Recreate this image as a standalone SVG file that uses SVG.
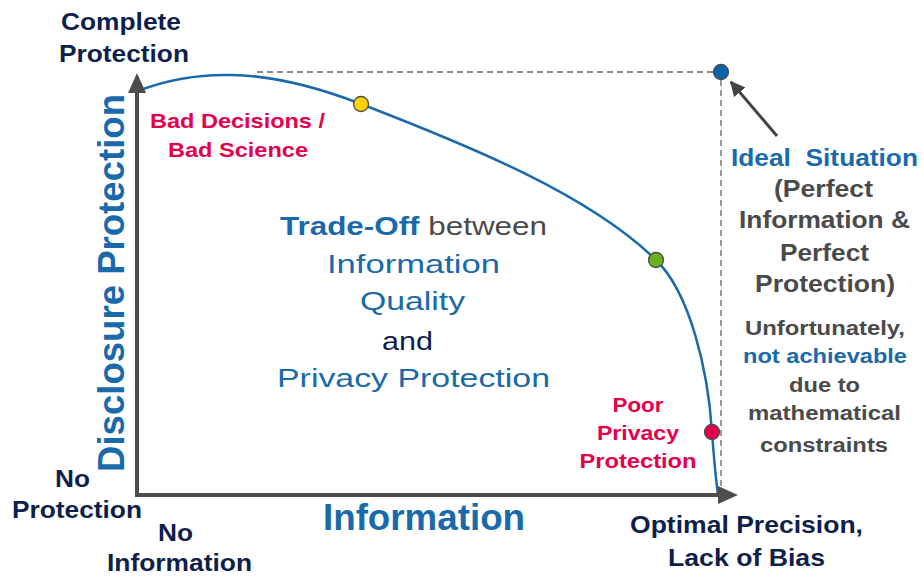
<svg xmlns="http://www.w3.org/2000/svg" width="924" height="576" viewBox="0 0 924 576">
<style>
text{font-family:"Liberation Sans",Arial,sans-serif;text-anchor:middle}
.b{font-weight:bold}
.navy{fill:#0f1f4b}
.blue{fill:#1a6aab}
.red{fill:#e6004c}
.gray{fill:#4a4a4a}
.axis{stroke:#4d4d4d;stroke-width:4;fill:none}
.dash{stroke:#666;stroke-width:1.3;stroke-dasharray:6 4;fill:none}
.dot{stroke:#4d4d4d;stroke-width:1.3}
</style>
<defs>
<marker id="ah" viewBox="0 0 10 10" refX="9" refY="5" markerWidth="5" markerHeight="5" orient="auto" markerUnits="strokeWidth">
<path d="M0,0 L10,5 L0,10 z" fill="#444"/>
</marker>
</defs>
<rect width="924" height="576" fill="#fff"/>
<g id="connectors">
<line class="dash" x1="257" y1="72" x2="714" y2="72"/>
<line class="dash" x1="721" y1="80" x2="721" y2="495" stroke="#8a8a8a"/>
<path d="M140,90 C170,79 200,74 232,75 C280,76 325,90 361,104 C470,146 590,195 656,260 C690,293 708,370 712,432 C714,460 716,480 718,495" fill="none" stroke="#1a6aab" stroke-width="2.5"/>
<line x1="777" y1="136" x2="731" y2="82" stroke="#444" stroke-width="3" marker-end="url(#ah)"/>
</g>
<g id="axes">
<line class="axis" x1="137" y1="497" x2="137" y2="90"/>
<path d="M137,73 L146,93 L128,93 z" fill="#4d4d4d"/>
<line class="axis" x1="135" y1="495" x2="720" y2="495"/>
<path d="M738,495 L718,486 L718,504 z" fill="#4d4d4d"/>
</g>
<g id="dot-ideal"><circle class="dot" cx="721" cy="72" r="7.5" fill="#0b63ab"/></g>
<g id="dot-bad"><circle class="dot" cx="361" cy="104" r="7.5" fill="#ffd100"/></g>
<g id="dot-mid"><circle class="dot" cx="656" cy="260" r="7.5" fill="#6cb023"/></g>
<g id="dot-poor"><circle class="dot" cx="712" cy="432" r="7.5" fill="#e6004c"/></g>
<g id="label-top">
<text class="b navy" x="121" y="30" font-size="24" textLength="120" lengthAdjust="spacingAndGlyphs">Complete</text>
<text class="b navy" x="124" y="62" font-size="24" textLength="130" lengthAdjust="spacingAndGlyphs">Protection</text>
</g>
<g id="label-y">
<text class="b blue" transform="translate(124,283) rotate(-90)" x="0" y="0" font-size="36" textLength="378" lengthAdjust="spacingAndGlyphs">Disclosure Protection</text>
</g>
<g id="label-noprot">
<text class="b navy" x="72.5" y="487" font-size="24" textLength="35" lengthAdjust="spacingAndGlyphs">No</text>
<text class="b navy" x="77" y="518" font-size="24" textLength="130" lengthAdjust="spacingAndGlyphs">Protection</text>
</g>
<g id="label-noinfo">
<text class="b navy" x="175.5" y="541" font-size="24" textLength="35" lengthAdjust="spacingAndGlyphs">No</text>
<text class="b navy" x="179.5" y="571" font-size="24" textLength="145" lengthAdjust="spacingAndGlyphs">Information</text>
</g>
<g id="label-x">
<text class="b blue" x="424" y="530" font-size="37" textLength="202" lengthAdjust="spacingAndGlyphs">Information</text>
</g>
<g id="label-optimal">
<text class="b navy" x="746.5" y="533" font-size="24" textLength="233" lengthAdjust="spacingAndGlyphs">Optimal Precision,</text>
<text class="b navy" x="746.5" y="566" font-size="24" textLength="157" lengthAdjust="spacingAndGlyphs">Lack of Bias</text>
</g>
<g id="label-bad">
<text class="b red" x="237.5" y="128" font-size="21" textLength="175" lengthAdjust="spacingAndGlyphs">Bad Decisions /</text>
<text class="b red" x="238" y="157" font-size="21" textLength="140" lengthAdjust="spacingAndGlyphs">Bad Science</text>
</g>
<g id="label-poor">
<text class="b red" x="638" y="412" font-size="21" textLength="51" lengthAdjust="spacingAndGlyphs">Poor</text>
<text class="b red" x="638" y="440" font-size="21" textLength="82" lengthAdjust="spacingAndGlyphs">Privacy</text>
<text class="b red" x="638" y="468" font-size="21" textLength="117" lengthAdjust="spacingAndGlyphs">Protection</text>
</g>
<g id="label-tradeoff">
<text x="413.5" y="235" font-size="26" textLength="267" lengthAdjust="spacingAndGlyphs"><tspan class="b blue">Trade-Off</tspan><tspan class="gray"> between</tspan></text>
<text class="blue" x="413.5" y="273" font-size="26" textLength="173" lengthAdjust="spacingAndGlyphs">Information</text>
<text class="blue" x="412.5" y="310" font-size="26" textLength="105" lengthAdjust="spacingAndGlyphs">Quality</text>
<text class="navy" x="407.5" y="350" font-size="26" textLength="51" lengthAdjust="spacingAndGlyphs">and</text>
<text class="blue" x="413.5" y="387" font-size="26" textLength="273" lengthAdjust="spacingAndGlyphs">Privacy Protection</text>
</g>
<g id="label-ideal">
<text class="b blue" x="824.5" y="166" font-size="24" textLength="187" lengthAdjust="spacingAndGlyphs" xml:space="preserve">Ideal  Situation</text>
<text class="b gray" x="823.5" y="197" font-size="24" textLength="99" lengthAdjust="spacingAndGlyphs">(Perfect</text>
<text class="b gray" x="824.5" y="228" font-size="24" textLength="171" lengthAdjust="spacingAndGlyphs">Information &amp;</text>
<text class="b gray" x="824.5" y="261" font-size="24" textLength="89" lengthAdjust="spacingAndGlyphs">Perfect</text>
<text class="b gray" x="825" y="292" font-size="24" textLength="140" lengthAdjust="spacingAndGlyphs">Protection)</text>
</g>
<g id="label-unfortunately">
<text class="b gray" x="825" y="335" font-size="20" textLength="160" lengthAdjust="spacingAndGlyphs">Unfortunately,</text>
<text class="b blue" x="825" y="363" font-size="20" textLength="164" lengthAdjust="spacingAndGlyphs">not achievable</text>
<text class="b gray" x="824.5" y="392" font-size="20" textLength="71" lengthAdjust="spacingAndGlyphs">due to</text>
<text class="b gray" x="824.5" y="420" font-size="20" textLength="153" lengthAdjust="spacingAndGlyphs">mathematical</text>
<text class="b gray" x="824" y="452" font-size="20" textLength="128" lengthAdjust="spacingAndGlyphs">constraints</text>
</g>
</svg>
